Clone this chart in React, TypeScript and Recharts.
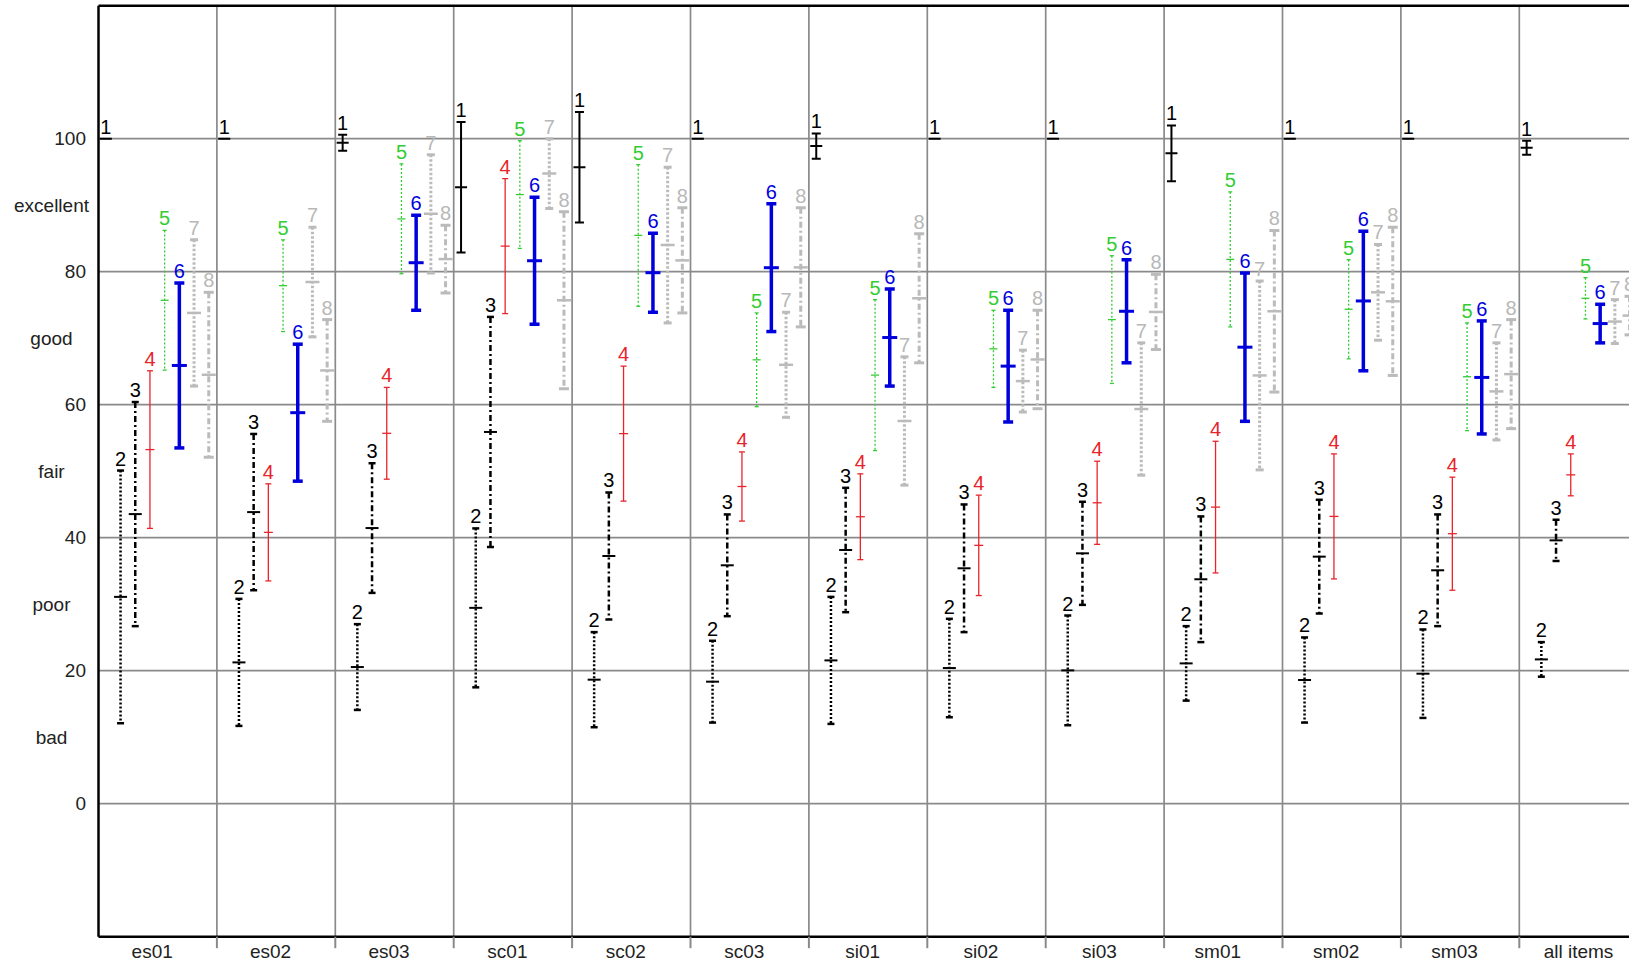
import React from 'react';
import { ComposedChart, Bar, XAxis, YAxis, ReferenceLine, CartesianGrid } from 'recharts';

const categories = ['es01', 'es02', 'es03', 'sc01', 'sc02', 'sc03', 'si01', 'si02', 'si03', 'sm01', 'sm02', 'sm03', 'all items'];

// condition means (MOS) and half-width of confidence interval
const mean1 = [100, 100, 99.4, 92.7, 95.7, 100, 98.9, 100, 100, 97.8, 100, 100, 98.65];
const ci1 = [0, 0, 1.2, 9.8, 8.3, 0, 1.9, 0, 0, 4.2, 0, 0, 1.05];
const mean2 = [31.1, 21.25, 20.55, 29.45, 18.65, 18.35, 21.55, 20.4, 20.05, 21.1, 18.6, 19.55, 21.7];
const ci2 = [19.0, 9.55, 6.45, 11.95, 7.15, 6.15, 9.55, 7.4, 8.25, 5.6, 6.4, 6.65, 2.6];
const mean3 = [43.55, 43.85, 41.45, 55.9, 37.25, 35.85, 38.15, 35.4, 37.65, 33.75, 37.15, 35.1, 39.6];
const ci3 = [16.85, 11.75, 9.75, 17.3, 9.55, 7.65, 9.35, 9.6, 7.75, 9.45, 8.55, 8.4, 3.1];
const mean4 = [53.25, 40.8, 55.7, 83.85, 55.65, 47.7, 43.15, 38.85, 45.25, 44.6, 43.2, 40.6, 49.45];
const ci4 = [11.85, 7.3, 6.9, 10.15, 10.15, 5.2, 6.45, 7.55, 6.25, 9.9, 9.4, 8.5, 3.15];
const mean5 = [75.7, 77.9, 87.95, 91.6, 85.45, 66.75, 64.45, 68.4, 72.8, 81.85, 74.35, 64.2, 76.0];
const ci5 = [10.5, 6.9, 8.25, 8.1, 10.65, 7.05, 11.35, 5.8, 9.6, 10.15, 7.45, 8.1, 3.1];
const mean6 = [65.9, 58.8, 81.35, 81.65, 79.85, 80.6, 70.1, 65.8, 74.05, 68.65, 75.6, 64.1, 72.2];
const ci6 = [12.4, 10.3, 7.15, 9.55, 5.95, 9.6, 7.3, 8.4, 7.75, 11.15, 10.5, 8.5, 2.9];
const mean7 = [73.8, 78.45, 88.7, 94.75, 84.0, 66.0, 57.55, 63.55, 59.35, 64.4, 76.9, 62.0, 72.5];
const ci7 = [11.0, 8.25, 8.9, 5.25, 11.7, 7.9, 9.65, 4.65, 9.95, 14.2, 7.2, 7.3, 3.3];
const mean8 = [64.5, 65.15, 81.9, 75.7, 81.7, 80.65, 76.0, 66.8, 73.95, 74.05, 75.55, 64.6, 73.4];
const ci8 = [12.4, 7.65, 5.1, 13.3, 7.9, 8.95, 9.7, 7.4, 5.65, 12.15, 11.15, 8.2, 2.9];

const yNumberTicks = [0, 20, 40, 60, 80, 100];
const yWordTicks = [10, 30, 50, 70, 90];
const yWords = ['bad', 'poor', 'fair', 'good', 'excellent'];

const means = [mean1, mean2, mean3, mean4, mean5, mean6, mean7, mean8];
const cis = [ci1, ci2, ci3, ci4, ci5, ci6, ci7, ci8];

const rows = categories.map((name, g) => {
  const row: any = { name, pos: g + 0.5 };
  means.forEach((m, k) => {
    row['r' + (k + 1)] = [m[g] - cis[k][g], m[g] + cis[k][g]];
  });
  return row;
});

const numTicks: number[] = [];
for (let i = 0; i <= categories.length * 2; i++) numTicks.push(i / 2);

const styles = [
  { color: '#000000', label: '#000000', w: 2, dash: undefined, cap: 9, capW: 2, mean: 12, meanW: 2 },
  { color: '#000000', label: '#000000', w: 2.5, dash: '2 2', cap: 7, capW: 2.5, mean: 13, meanW: 2 },
  { color: '#000000', label: '#000000', w: 2.5, dash: '6 3 2 3', cap: 7, capW: 2.5, mean: 13, meanW: 2 },
  { color: '#e8242b', label: '#e8242b', w: 1.3, dash: undefined, cap: 6, capW: 1.3, mean: 9, meanW: 1.3 },
  { color: '#33cc33', label: '#33cc33', w: 1.3, dash: '2 2', cap: 4, capW: 1.3, mean: 8, meanW: 1.3 },
  { color: '#0000dd', label: '#0000dd', w: 3.5, dash: undefined, cap: 10, capW: 3.5, mean: 15, meanW: 3 },
  { color: '#bbbbbb', label: '#b8b8b8', w: 3, dash: '2.5 2', cap: 8, capW: 3, mean: 14, meanW: 2.5 },
  { color: '#bbbbbb', label: '#b8b8b8', w: 3, dash: '6 3 2 3', cap: 10, capW: 3, mean: 14, meanW: 2.5 },
];

const FONT = '"Liberation Sans", Arial, Helvetica, sans-serif';

const makeShape = (k: number) => (props: any) => {
  const { x, y, width, height } = props;
  if (x == null || y == null || isNaN(x) || isNaN(y)) return null;
  const s = styles[k];
  const cx = x + width / 2;
  const h = height || 0;
  const top = Math.min(y, y + h);
  const bot = Math.max(y, y + h);
  const mid = (top + bot) / 2;
  const hasRange = bot - top > 0.5;
  return (
    <g>
      {hasRange && (
        <line x1={cx} x2={cx} y1={top} y2={bot} stroke={s.color} strokeWidth={s.w} strokeDasharray={s.dash} />
      )}
      {hasRange && (
        <line x1={cx - s.cap / 2} x2={cx + s.cap / 2} y1={top} y2={top} stroke={s.color} strokeWidth={s.capW} />
      )}
      {hasRange && (
        <line x1={cx - s.cap / 2} x2={cx + s.cap / 2} y1={bot} y2={bot} stroke={s.color} strokeWidth={s.capW} />
      )}
      <line x1={cx - s.mean / 2} x2={cx + s.mean / 2} y1={mid} y2={mid} stroke={s.color} strokeWidth={s.meanW} />
      <text x={cx} y={top - 5} textAnchor="middle" fill={s.label} fontSize={20} fontFamily={FONT}>
        {k + 1}
      </text>
    </g>
  );
};

const shapes = styles.map((_, k) => makeShape(k));

const YTick = (props: any) => {
  const { x, y, payload } = props;
  const v = payload.value;
  const wi = yWordTicks.indexOf(v);
  if (wi >= 0) {
    return (
      <text x={x - 47} y={y} dy="0.35em" textAnchor="middle" fill="#222" fontSize={19} fontFamily={FONT}>
        {yWords[wi]}
      </text>
    );
  }
  if (yNumberTicks.indexOf(v) >= 0) {
    return (
      <text x={x - 12.5} y={y} dy="0.35em" textAnchor="end" fill="#222" fontSize={19} fontFamily={FONT}>
        {v}
      </text>
    );
  }
  return null;
};

const XTick = (props: any) => {
  const { x, y, payload } = props;
  const v = payload.value;
  if (Number.isInteger(v)) {
    if (v === 0) return null;
    return <line x1={x} x2={x} y1={y} y2={y + 11.5} stroke="#8a8a8a" strokeWidth={2} />;
  }
  const g = Math.floor(v);
  const last = g === categories.length - 1;
  return (
    <text x={x} y={y + 21} dx={last ? 0 : -5.5} textAnchor="middle" fill="#222" fontSize={19} fontFamily={FONT}>
      {categories[g]}
    </text>
  );
};

const gridV: number[] = [];
for (let i = 1; i < categories.length; i++) gridV.push(i);

export default function App() {
  return (
    <div style={{ position: 'fixed', left: 0, top: 0, width: 1629, height: 959, overflow: 'hidden', background: '#fff' }}>
      <ComposedChart
        width={1650}
        height={970}
        data={rows}
        margin={{ top: 5.7, right: 12.3, bottom: 3.3, left: 0 }}
        barGap={0}
        barCategoryGap={0}
      >
        <CartesianGrid
          xAxisId="num"
          verticalValues={gridV}
          horizontalValues={yNumberTicks}
          stroke="#8a8a8a"
          strokeWidth={1.7}
        />
        <XAxis xAxisId="cat" dataKey="name" type="category" orientation="top" height={0} hide />
        <XAxis
          xAxisId="num"
          dataKey="pos"
          type="number"
          domain={[0, categories.length]}
          ticks={numTicks}
          interval={0}
          height={30}
          tickSize={0}
          tickMargin={0}
          tickLine={false}
          allowDataOverflow
          axisLine={{ stroke: '#000', strokeWidth: 2.5 }}
          tick={<XTick />}
        />
        <YAxis
          type="number"
          domain={[-20, 120]}
          ticks={[0, 10, 20, 30, 40, 50, 60, 70, 80, 90, 100]}
          interval={0}
          width={98.5}
          tickSize={0}
          tickMargin={0}
          tickLine={false}
          allowDataOverflow
          axisLine={{ stroke: '#000', strokeWidth: 2.5 }}
          tick={<YTick />}
        />
        {styles.map((_, k) => (
          <Bar
            key={k}
            xAxisId="cat"
            dataKey={'r' + (k + 1)}
            barSize={14.7}
            shape={shapes[k]}
            isAnimationActive={false}
          />
        ))}
        <ReferenceLine xAxisId="num" y={120} stroke="#000" strokeWidth={2.5} />
      </ComposedChart>
    </div>
  );
}
